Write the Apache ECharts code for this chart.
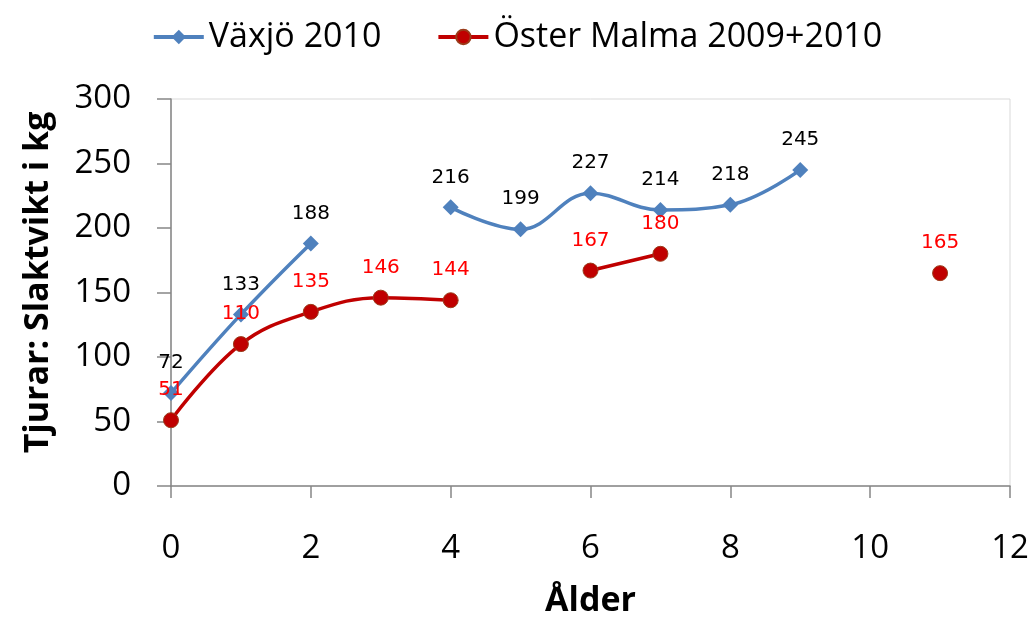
<!DOCTYPE html>
<html>
<head>
<meta charset="utf-8">
<script src="https://cdn.jsdelivr.net/npm/echarts@6/dist/echarts.min.js"></script>
<style>
  html, body { margin: 0; padding: 0; background: #fff; }
  #main { width: 1034px; height: 626px; }
</style>
</head>
<body>
<div id="main"></div>
<script>
// Tjurar: slaktvikt per ålder
var seriesNames = ['Växjö 2010', 'Öster Malma 2009+2010'];
var vaxjoAge    = [0, 1, 2, 3, 4, 5, 6, 7, 8, 9];
var vaxjoWeight = [72, 133, 188, null, 216, 199, 227, 214, 218, 245];
var malmaAge    = [0, 1, 2, 3, 4, 5, 6, 7, 8, 11];
var malmaWeight = [51, 110, 135, 146, 144, null, 167, 180, null, 165];

function pairs(xs, ys) {
  return xs.map(function (x, i) {
    return [x, ys[i] == null ? '-' : ys[i]];
  });
}

var chart = echarts.init(document.getElementById('main'));
chart.setOption({
  animation: false,
  legend: {
    top: 15,
    left: 'center',
    itemWidth: 50,
    itemHeight: 18,
    itemGap: 55,
    lineStyle: { width: 4 },
    textStyle: { fontFamily: 'Open Sans', fontSize: 34, color: '#000' },
    data: seriesNames
  },
  grid: {
    left: 171, right: 24, top: 99, bottom: 140,
    show: true, borderColor: '#d9d9d9', borderWidth: 1
  },
  xAxis: {
    type: 'value',
    min: 0, max: 12, interval: 2,
    name: 'Ålder',
    nameLocation: 'middle',
    nameGap: 98,
    nameTextStyle: { fontFamily: 'Open Sans', fontSize: 34, fontWeight: 'bold', color: '#000' },
    axisLine: { show: true, lineStyle: { color: '#868686', width: 1.5 } },
    axisTick: { show: true, length: 12, lineStyle: { color: '#868686', width: 1.5 } },
    axisLabel: { margin: 46, fontFamily: 'Open Sans', fontSize: 33, color: '#000' },
    splitLine: { show: false }
  },
  yAxis: {
    type: 'value',
    min: 0, max: 300, interval: 50,
    name: 'Tjurar: Slaktvikt i kg',
    nameLocation: 'middle',
    nameGap: 116,
    nameTextStyle: {
      fontFamily: 'Open Sans', fontSize: 34, fontWeight: 'bold', color: '#000',
      padding: [0, 0, 0, 20]
    },
    axisLine: { show: true, lineStyle: { color: '#868686', width: 1.5 } },
    axisTick: { show: true, length: 14, lineStyle: { color: '#868686', width: 1.5 } },
    axisLabel: { margin: 40, fontFamily: 'Open Sans', fontSize: 33, color: '#000' },
    splitLine: { show: false }
  },
  series: [
    {
      name: seriesNames[0],
      type: 'line',
      data: pairs(vaxjoAge, vaxjoWeight),
      smooth: 0.4,
      connectNulls: false,
      symbol: 'diamond',
      symbolSize: 16,
      itemStyle: { color: '#4f81bd' },
      lineStyle: { color: '#4f81bd', width: 3.5 },
      label: {
        show: true, position: 'top', distance: 12,
        fontFamily: 'DejaVu Sans', fontSize: 20, color: '#000'
      }
    },
    {
      name: seriesNames[1],
      type: 'line',
      data: pairs(malmaAge, malmaWeight),
      smooth: 0.4,
      connectNulls: false,
      symbol: 'circle',
      symbolSize: 15,
      itemStyle: { color: '#c00000', borderColor: '#9a3b1a', borderWidth: 1 },
      lineStyle: { color: '#c00000', width: 3.5 },
      label: {
        show: true, position: 'top', distance: 12,
        fontFamily: 'DejaVu Sans', fontSize: 20, color: '#ff0000'
      }
    }
  ]
});
</script>
</body>
</html>
